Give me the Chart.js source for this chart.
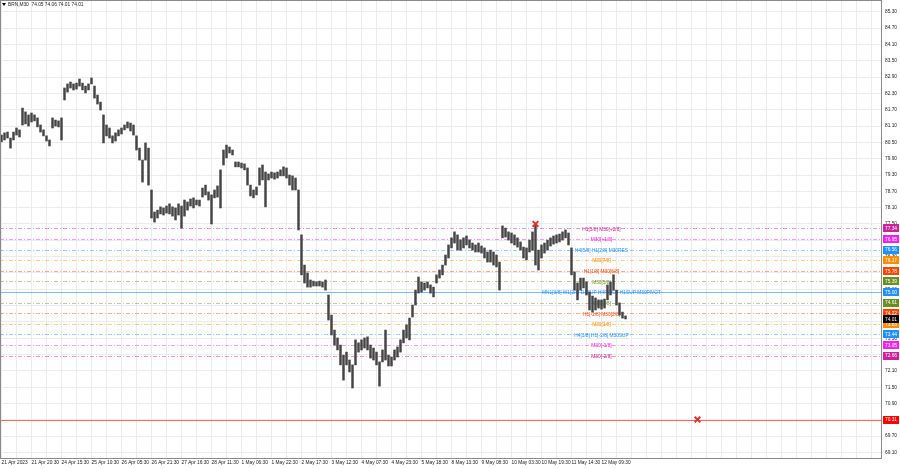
<!DOCTYPE html>
<html>
<head>
<meta charset="utf-8">
<script src="https://cdn.jsdelivr.net/npm/chart.js@4.4.0/dist/chart.umd.min.js"></script>
<style>
html, body { margin: 0; padding: 0; background: #fff; }
canvas { display: block; }
</style>
</head>
<body>
<canvas id="myChart" width="900" height="468"></canvas>
<script>
// header of the MT4 window
var symbolTitle = 'BRN,M30  74.05 74.06 74.01 74.01'

// time labels, one every 10 slots
var timeLabels = ['21 Apr 2023', '21 Apr 20:30', '24 Apr 15:30', '25 Apr 10:30', '26 Apr 05:30', '26 Apr 21:30',
    '27 Apr 16:30', '28 Apr 11:30', '1 May 06:30', '1 May 22:30', '2 May 17:30', '3 May 12:30', '4 May 07:30',
    '4 May 23:30', '5 May 18:30', '8 May 13:30', '9 May 08:30', '10 May 03:30', '10 May 19:30', '11 May 14:30',
    '12 May 09:30']

// price scale labels
var priceTicks = [69.10, 69.70, 70.30, 70.90, 71.50, 72.10, 72.70, 73.30, 73.90, 74.50, 75.10, 75.70, 76.30,
    76.90, 77.50, 78.10, 78.70, 79.30, 79.90, 80.50, 81.10, 81.70, 82.30, 82.90, 83.50, 84.10, 84.70, 85.30]

// highs / lows
var barHighs = [
    80.77, 80.85, 80.88, 80.66, 80.88, 81.03, 80.96, 81.76, 81.62, 81.51,
    81.58, 81.51, 81.40, 81.14, 80.96, 80.74, 80.59, 81.40, 81.32, 81.29,
    81.40, 82.50, 82.65, 82.72, 82.65, 82.68, 82.83, 82.68, 82.57, 82.65,
    82.87, 82.57, 82.24, 81.98, 81.51, 81.14, 81.03, 80.74, 80.85, 80.96,
    81.03, 81.14, 81.25, 81.21, 81.14, 80.74, 80.29, 79.85, 80.48, 80.29,
    78.75, 77.94, 78.01, 78.13, 78.09, 78.16, 78.24, 78.13, 78.09, 78.24,
    78.16, 78.38, 78.31, 78.42, 78.46, 78.38, 78.38, 78.82, 78.93, 78.68,
    78.57, 78.75, 78.90, 79.49, 80.22, 80.40, 80.33, 80.22, 79.78, 79.78,
    79.74, 79.71, 79.56, 78.93, 78.75, 78.86, 79.56, 79.67, 79.41, 79.34,
    79.41, 79.38, 79.41, 79.49, 79.60, 79.56, 79.30, 79.27, 79.19, 78.75,
    77.10, 75.99, 75.70, 75.44, 75.40, 75.37, 75.40, 75.37, 75.44, 74.89,
    74.15, 73.60, 73.31, 73.05, 72.68, 72.79, 72.50, 72.32, 73.24, 73.13,
    73.24, 73.31, 73.35, 73.05, 72.94, 72.79, 72.43, 72.87, 73.60, 72.68,
    72.61, 72.87, 72.98, 73.24, 73.60, 73.79, 74.04, 74.52, 75.07, 75.55,
    75.37, 75.33, 75.37, 75.26, 75.18, 75.63, 75.81, 75.99, 76.36, 76.73,
    76.99, 77.21, 77.10, 76.91, 76.99, 77.06, 76.91, 76.80, 76.73, 76.80,
    76.69, 76.62, 76.47, 76.54, 76.47, 76.36, 76.10, 77.43, 77.35, 77.21,
    77.17, 77.10, 76.99, 76.84, 76.65, 76.62, 76.91, 77.21, 77.50, 76.54,
    76.73, 76.80, 76.91, 76.99, 77.06, 77.10, 77.13, 77.21, 77.28, 77.17,
    76.62, 75.74, 75.33, 75.51, 75.51, 75.37, 75.00, 74.85, 74.78, 74.71,
    74.71, 74.74, 75.26, 75.37, 75.63, 75.07, 74.60, 74.26, 74.12
]
var barLows = [
    80.52, 80.59, 80.66, 80.29, 80.59, 80.77, 80.70, 81.14, 81.18, 81.10,
    81.25, 81.29, 81.07, 80.88, 80.74, 80.55, 80.37, 81.03, 81.10, 81.07,
    80.59, 82.06, 82.35, 82.50, 82.43, 82.46, 82.57, 82.43, 82.32, 82.43,
    82.65, 82.13, 81.91, 81.69, 80.48, 80.74, 80.66, 80.48, 80.55, 80.74,
    80.81, 80.96, 81.03, 80.92, 80.77, 80.22, 79.85, 79.04, 79.85, 78.93,
    77.72, 77.57, 77.72, 77.87, 77.83, 77.90, 77.87, 77.79, 77.65, 77.83,
    77.35, 77.79, 78.01, 78.16, 78.09, 78.20, 78.16, 78.49, 78.57, 78.38,
    77.50, 78.46, 78.49, 78.09, 79.67, 79.93, 80.11, 80.04, 79.60, 79.60,
    79.56, 79.49, 78.93, 78.53, 78.46, 78.57, 78.93, 79.12, 78.13, 79.12,
    79.19, 79.15, 79.19, 79.27, 79.27, 79.19, 78.93, 78.75, 78.75, 77.28,
    75.63, 75.33, 75.18, 75.18, 75.22, 75.22, 75.22, 75.18, 75.07, 73.97,
    73.42, 73.05, 72.87, 72.32, 71.76, 72.32, 72.06, 71.47, 72.32, 72.79,
    72.87, 72.94, 72.87, 72.57, 72.50, 72.32, 71.54, 72.43, 72.50, 72.28,
    72.28, 72.50, 72.61, 72.79, 73.13, 73.31, 73.24, 74.08, 74.52, 74.96,
    75.00, 75.07, 75.15, 74.96, 74.82, 75.33, 75.51, 75.63, 75.99, 76.25,
    76.62, 76.80, 76.54, 76.54, 76.62, 76.73, 76.62, 76.54, 76.47, 76.47,
    76.43, 76.25, 76.10, 76.10, 75.99, 75.92, 75.07, 76.99, 77.02, 76.91,
    76.80, 76.73, 76.65, 76.54, 76.25, 76.18, 76.47, 76.54, 75.99, 75.81,
    76.25, 76.43, 76.54, 76.69, 76.76, 76.80, 76.84, 76.91, 76.99, 76.73,
    75.63, 75.07, 74.71, 75.07, 75.15, 74.89, 74.34, 74.26, 74.34, 74.41,
    74.37, 74.41, 74.71, 74.89, 75.07, 74.52, 74.15, 74.04, 74.01
]

// murrey levels drawn by the indicator
var levelValues = [77.34, 76.95, 76.56, 76.17, 75.78, 75.39, 75.00, 74.61, 74.22, 73.83, 73.44, 73.05, 72.66, 70.31]
var levelTexts = ['H1[5/8] M30[+2/8]', 'M30[+1/8]', 'H4[5/8] H1[2/8] M30RES', 'M30[7/8]', 'H1[1/8] M30[6/8]',
    'M30[5/8]', 'MN1[3/8] W1[2/8] D1SUP H4PIVOT H1SUP M30PIVOT', 'M30[3/8]', 'H1[-1/8] M30[2/8]', 'M30[1/8]',
    'H4[3/8] H1[-2/8] M30SUP', 'M30[-1/8]', 'M30[-2/8]', '']
var lastPrice = 74.01

// red cross markers (slot, price)
var crossSlots = [178, 232]
var crossPrices = [77.50, 70.31]

// ---- styles ----
var slotCount = 294
var levelColors = ['#cc2299', '#ee22ee', '#1e90ff', '#ff8c00', '#ff4500', '#6b8e23', '#1e90ff', '#6b8e23',
    '#ff4500', '#ff8c00', '#1e90ff', '#ee22ee', '#cc2299', '#ff0000']
var levelSolid = [false, false, false, false, false, false, true, false, false, false, false, false, false, true]
var tinyFont = '4.8px "Liberation Sans"'

var slots = Array.from({length: slotCount}, (_, i) => i)

var mt4Plugin = {
    id: 'mt4',
    beforeDatasetsDraw(chart) {
        const {ctx, chartArea, scales} = chart
        ctx.save()
        ctx.lineWidth = 1
        levelValues.forEach((v, i) => {
            const y = Math.round(scales.y.getPixelForValue(v)) + 0.5
            ctx.globalAlpha = levelSolid[i] ? 0.6 : 0.45
            ctx.strokeStyle = levelColors[i]
            ctx.setLineDash(levelSolid[i] ? [] : [4, 2, 1, 2])
            ctx.beginPath()
            ctx.moveTo(chartArea.left, y)
            ctx.lineTo(chartArea.right, y)
            ctx.stroke()
        })
        ctx.globalAlpha = 1
        ctx.setLineDash([])
        ctx.font = tinyFont
        ctx.textAlign = 'center'
        ctx.textBaseline = 'middle'
        const tx = scales.x.getPixelForValue(200)
        levelValues.forEach((v, i) => {
            if (!levelTexts[i]) return
            ctx.fillStyle = levelColors[i]
            ctx.fillText(levelTexts[i], tx, scales.y.getPixelForValue(v) + 1)
        })
        ctx.restore()
    },
    afterDraw(chart) {
        const {ctx, chartArea, scales} = chart
        ctx.save()
        // frame
        ctx.strokeStyle = '#8a8a8a'
        ctx.lineWidth = 1
        ctx.strokeRect(chartArea.left + 0.5, chartArea.top + 0.5, chartArea.right - chartArea.left - 1, chartArea.bottom - chartArea.top)
        // price boxes on the right scale
        ctx.font = tinyFont
        ctx.textAlign = 'left'
        ctx.textBaseline = 'middle'
        const boxes = levelValues.map((v, i) => ({v: v, c: levelColors[i]}))
        boxes.push({v: lastPrice, c: '#000000'})
        boxes.forEach(b => {
            const y = scales.y.getPixelForValue(b.v)
            ctx.fillStyle = b.c
            ctx.fillRect(chartArea.right + 1, Math.round(y) - 4, 16, 8)
            ctx.fillStyle = '#ffffff'
            ctx.fillText(b.v.toFixed(2), chartArea.right + 3, y + 0.5)
        })
        // header
        ctx.fillStyle = '#000'
        ctx.beginPath()
        ctx.moveTo(2, 3); ctx.lineTo(6, 3); ctx.lineTo(4, 6); ctx.closePath()
        ctx.fill()
        ctx.fillStyle = '#222'
        ctx.fillText(symbolTitle, 8, 5)
        ctx.restore()
    }
}

var ctx = document.getElementById('myChart')
var myChart = new Chart(ctx, {
    data: {
        labels: slots,
        datasets: [{
            type: 'line',
            data: crossSlots.map((s, i) => ({x: s, y: crossPrices[i]})),
            showLine: false,
            pointStyle: 'crossRot',
            pointRadius: 4,
            pointBorderWidth: 2,
            borderColor: '#e53030',
            backgroundColor: '#e53030',
            clip: false,
            order: 0
        }, {
            type: 'bar',
            data: barHighs.map((h, i) => [barLows[i], h]),
            backgroundColor: '#444444',
            barThickness: 1.8,
            grouped: false,
            order: 1
        }]
    },
    plugins: [mt4Plugin],
    options: {
        responsive: false,
        animation: false,
        layout: { padding: 0, autoPadding: false },
        plugins: { legend: { display: false }, tooltip: { enabled: false } },
        scales: {
            x: {
                type: 'category',
                offset: true,
                grid: {
                    offset: false,
                    drawTicks: false,
                    color: c => (c.index % 5 === 0 ? '#ececec' : 'rgba(0,0,0,0)')
                },
                border: { display: false },
                ticks: {
                    autoSkip: false,
                    maxRotation: 0,
                    minRotation: 0,
                    align: 'start',
                    padding: 2,
                    color: '#222',
                    font: { family: 'Liberation Sans', size: 4.8 },
                    callback: (v, i) => (i % 10 === 0 ? (timeLabels[i / 10] || '') : '')
                },
                afterFit: s => { s.height = 10; s.paddingLeft = 0; s.paddingRight = 0 }
            },
            y: {
                type: 'linear',
                position: 'right',
                min: 68.897,
                max: 85.735,
                grid: { color: '#ececec', drawTicks: false },
                border: { display: false },
                ticks: {
                    padding: 3,
                    color: '#222',
                    font: { family: 'Liberation Sans', size: 4.8 },
                    callback: v => v.toFixed(2)
                },
                afterBuildTicks: s => { s.ticks = priceTicks.map(v => ({value: v})) },
                afterFit: s => { s.width = 18; s.paddingTop = 0; s.paddingBottom = 0 }
            }
        }
    }
})
</script>
</body>
</html>
